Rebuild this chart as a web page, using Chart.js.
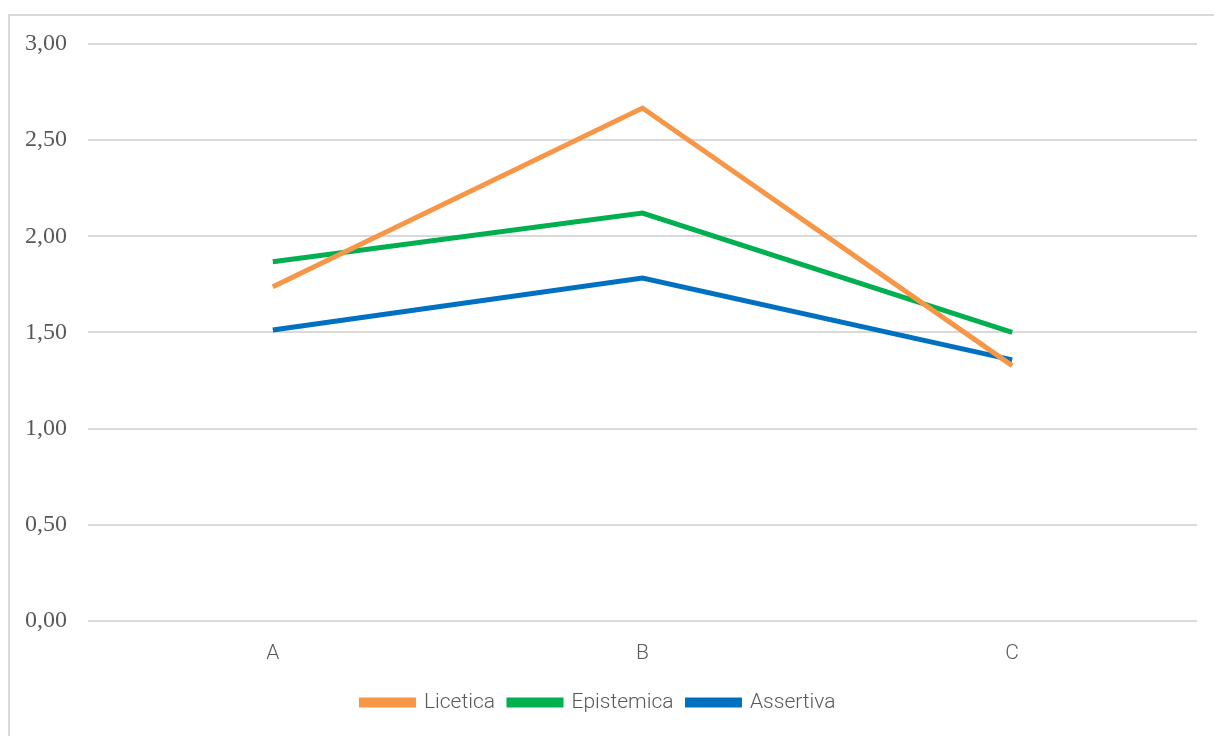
<!DOCTYPE html>
<html>
<head>
<meta charset="utf-8">
<script src="https://cdn.jsdelivr.net/npm/chart.js@4"></script>
<style>
  html, body { margin: 0; padding: 0; background: #fff; }
  #frame {
    position: absolute; left: 8px; top: 14px; width: 1220px; height: 740px;
    border-left: 2px solid #d9d9d9; border-top: 2px solid #d9d9d9; box-sizing: border-box;
  }
  #wrap { position: absolute; left: 0; top: 0; width: 1214px; height: 736px; }
</style>
</head>
<body>
<div id="frame"></div>
<div id="wrap"><canvas id="chart"></canvas></div>
<script>
const categories = ['A', 'B', 'C'];

const licetica = [1.737, 2.667, 1.327];
const epistemica = [1.867, 2.121, 1.50];
const assertiva = [1.513, 1.783, 1.357];

const yTicks = [0, 0.5, 1, 1.5, 2, 2.5, 3];

const ctx = document.getElementById('chart').getContext('2d');

const chart = new Chart(ctx, {
  type: 'line',
  data: {
    labels: categories,
    datasets: [
      { label: 'Licetica', data: licetica, borderColor: '#f79646', backgroundColor: '#f79646' },
      { label: 'Epistemica', data: epistemica, borderColor: '#00b050', backgroundColor: '#00b050' },
      { label: 'Assertiva', data: assertiva, borderColor: '#0070c0', backgroundColor: '#0070c0' }
    ]
  },
  options: {
    responsive: true,
    maintainAspectRatio: false,
    animation: false,
    elements: {
      line: { borderWidth: 5, tension: 0, borderCapStyle: 'butt' },
      point: { radius: 0, hoverRadius: 0 }
    },
    layout: { padding: { left: 0, right: 17, top: 44, bottom: 13 } },
    plugins: {
      tooltip: { enabled: false },
      legend: {
        position: 'bottom',
        labels: {
          boxWidth: 52,
          boxHeight: 5,
          padding: 14,
          color: '#595959',
          font: { family: 'Roboto, "Liberation Sans", sans-serif', size: 21, weight: 300 }
        }
      }
    },
    scales: {
      x: {
        offset: true,
        grid: { display: false },
        border: { display: false },
        ticks: {
          color: '#595959',
          padding: 12,
          font: { family: 'Roboto, "Liberation Sans", sans-serif', size: 21, weight: 300 }
        }
      },
      y: {
        min: 0,
        max: 3,
        afterFit: (scale) => { scale.width = 88; },
        afterBuildTicks: (scale) => { scale.ticks = yTicks.map(v => ({ value: v })); },
        grid: { color: '#d9d9d9', lineWidth: 2, drawTicks: false },
        border: { display: false },
        ticks: {
          color: '#595959',
          padding: 21,
          font: { family: '"Liberation Serif", "DejaVu Serif", serif', size: 24 },
          callback: (v) => v.toFixed(2).replace('.', ',')
        }
      }
    }
  }
});
</script>
</body>
</html>
